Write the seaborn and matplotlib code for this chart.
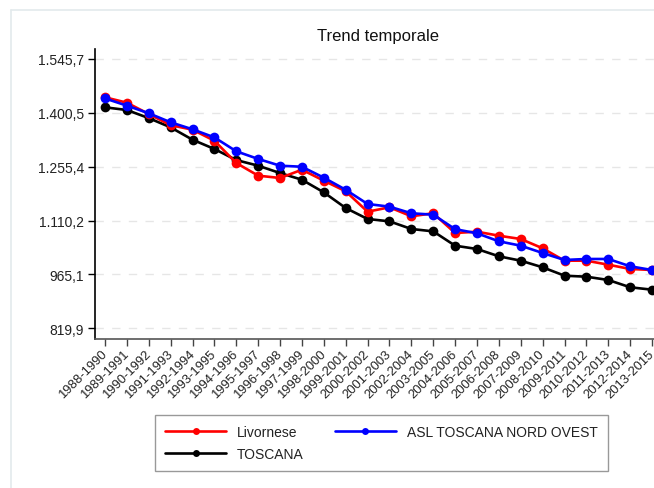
import matplotlib
matplotlib.use("Agg")
import matplotlib.pyplot as plt
from matplotlib.lines import Line2D
import seaborn as sns
import pandas as pd

periods = ["1988-1990", "1989-1991", "1990-1992", "1991-1993", "1992-1994", "1993-1995",
           "1994-1996", "1995-1997", "1996-1998", "1997-1999", "1998-2000", "1999-2001",
           "2000-2002", "2001-2003", "2002-2004", "2003-2005", "2004-2006", "2005-2007",
           "2006-2008", "2007-2009", "2008-2010", "2009-2011", "2010-2012", "2011-2013",
           "2012-2014", "2013-2015"]
livornese = [1442, 1427.5, 1397, 1367, 1354.8, 1325, 1265, 1231, 1224.7, 1247, 1217.5, 1188.9,
             1133.9, 1145.8, 1121.6, 1129.7, 1076.6, 1080.1, 1069.3, 1060.4, 1035.4, 1002,
             1002, 991.2, 979.7, 977]
asl = [1439, 1419.5, 1399, 1374.7, 1355.8, 1334, 1296.6, 1276, 1257.8, 1255, 1225.5, 1193,
       1154.7, 1147.5, 1129.7, 1125.9, 1086.9, 1075.8, 1054.2, 1042.4, 1022.7, 1003.9,
       1006.6, 1006.6, 986.9, 976.9]
toscana = [1415, 1407.8, 1386, 1361, 1327.8, 1302.8, 1273, 1257.8, 1238, 1220, 1186, 1143.9,
           1114.3, 1108, 1087.4, 1081, 1042.4, 1033.5, 1013.8, 1002, 984.2, 961.6, 958.9,
           950, 930.4, 923.9]
series_names = ["Livornese", "ASL TOSCANA NORD OVEST", "TOSCANA"]
series_colors = ["#ff0000", "#0000ff", "#000000"]
ytick_values = [819.9, 965.1, 1110.2, 1255.4, 1400.5, 1545.7]
ytick_labels = ["819,9", "965,1", "1.110,2", "1.255,4", "1.400,5", "1.545,7"]

sns.set_theme(style="white")
plt.rcParams["font.family"] = ["Liberation Sans", "DejaVu Sans"]

rows = []
for name, vals in zip(series_names, [livornese, asl, toscana]):
    for i, v in enumerate(vals):
        rows.append({"pos": i, "value": v, "serie": name})
df = pd.DataFrame(rows)

W, H = 654, 489
fig = plt.figure(figsize=(W / 100, H / 100), dpi=100)
ax = fig.add_axes([95 / W, 1 - 340 / H, (W - 95) / W, 290 / H])

palette = dict(zip(series_names, series_colors))
draw_order = ["TOSCANA", "Livornese", "ASL TOSCANA NORD OVEST"]
for name in draw_order:
    sns.lineplot(data=df[df["serie"] == name], x="pos", y="value", color=palette[name],
                 marker="o", markersize=7, markeredgewidth=0, linewidth=1.9, ax=ax,
                 legend=False, zorder=3)

ax.set_xlim(-0.457, 25.09)
ax.set_ylim(791.1, 1572.1)
ax.set_yticks(ytick_values)
ax.set_yticklabels(ytick_labels, fontsize=10, color="#222222")
ax.set_xticks(range(len(periods)))
ax.set_xticklabels(periods, rotation=45, ha="right", va="center", rotation_mode="anchor",
                   fontsize=9.4, color="#222222")
ax.set_xlabel("")
ax.set_ylabel("")
ax.tick_params(axis="y", which="major", length=5, width=1, color="#000000", pad=3, left=True)
ax.tick_params(axis="x", which="major", length=5, width=1, color="#444444", pad=4, bottom=True)

ax.grid(axis="y", linestyle=(0, (6, 6)), color="#e6e6e6", linewidth=1)
ax.grid(axis="x", visible=False)
ax.set_axisbelow(True)
for s in ["top", "right"]:
    ax.spines[s].set_visible(False)
ax.spines["left"].set_color("#000000")
ax.spines["left"].set_linewidth(1.2)
ax.spines["bottom"].set_color("#555555")
ax.spines["bottom"].set_linewidth(1.2)

fig.text(378 / W, 1 - 36 / H, "Trend temporale", ha="center", va="center", fontsize=12,
         color="#111111")

handles = {name: Line2D([0], [0], color=palette[name], marker="o", markersize=5,
                        markeredgewidth=0, linewidth=1.9) for name in series_names}
order = ["Livornese", "TOSCANA", "ASL TOSCANA NORD OVEST"]
leg = fig.legend([handles[n] for n in order], order, loc="upper left",
                 bbox_to_anchor=(155 / W, 1 - 416 / H), bbox_transform=fig.transFigure,
                 ncol=2, fontsize=10, frameon=True, fancybox=False, handlelength=4.4,
                 handleheight=0.7, handletextpad=0.8, columnspacing=2.2, labelspacing=0.55,
                 borderpad=0.72, borderaxespad=0)
leg.get_frame().set_edgecolor("#808080")
leg.get_frame().set_linewidth(1)
for t in leg.get_texts():
    t.set_color("#222222")

fig.add_artist(Line2D([11 / W, 11 / W], [0, 1 - 11 / H], transform=fig.transFigure,
                      color="#e3eaec", linewidth=1.2))
fig.add_artist(Line2D([11 / W, 1], [1 - 11 / H, 1 - 11 / H], transform=fig.transFigure,
                      color="#e3eaec", linewidth=1.2))

fig.savefig("out.png", dpi=100)
